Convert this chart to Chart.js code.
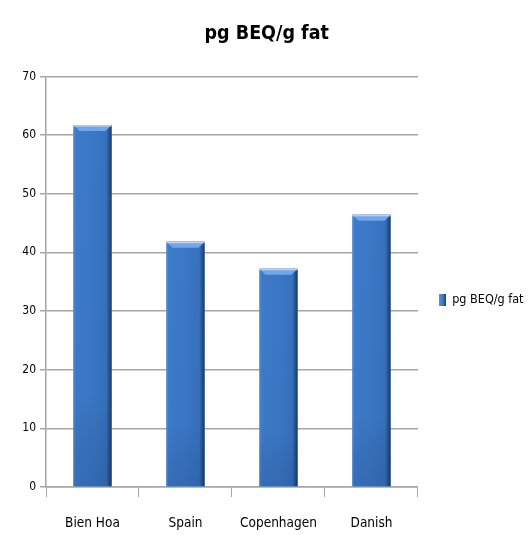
<!DOCTYPE html>
<html>
<head>
<meta charset="utf-8">
<script src="https://cdn.jsdelivr.net/npm/chart.js@4/dist/chart.umd.min.js"></script>
<style>
    html, body { margin: 0; padding: 0; background: #fff; }
    #wrap { width: 529px; height: 535px; }
</style>
</head>
<body>
<div id="wrap"><canvas id="beqChart" width="529" height="535"></canvas></div>
<script>
const SITES = ['Bien Hoa', 'Spain', 'Copenhagen', 'Danish'];
const BEQ_VALUES = [61.7, 41.8, 37.2, 46.4];
const SERIES_NAME = 'pg BEQ/g fat';
const Y_MAX = 70;
const Y_STEP = 10;

const FONT = "'DejaVu Sans Condensed', 'Liberation Sans', sans-serif";
const GRID = '#a6a6a6';

/* ---------- bar shading (office-style bevel) ---------- */
const bevelBars = {
    id: 'bevelBars',
    afterDatasetsDraw(chart) {
        const ctx = chart.ctx;
        chart.getDatasetMeta(0).data.forEach(bar => {
            const left = bar.x - bar.width / 2;
            const right = bar.x + bar.width / 2;
            const top = bar.y;
            const bottom = bar.base;
            ctx.save();
            // flat body, light left edge, dark right rim
            const g = ctx.createLinearGradient(left, 0, right, 0);
            g.addColorStop(0, '#5590d8');
            g.addColorStop(0.06, '#3d7bca');
            g.addColorStop(0.5, '#3a77c6');
            g.addColorStop(0.86, '#3771be');
            g.addColorStop(0.93, '#28568f');
            g.addColorStop(1, '#1b3966');
            ctx.fillStyle = g;
            ctx.fillRect(left, top, right - left, bottom - top);
            // slight darkening toward the base
            const v = ctx.createLinearGradient(0, top, 0, bottom);
            v.addColorStop(0, 'rgba(0,0,0,0)');
            v.addColorStop(0.75, 'rgba(0,0,0,0.02)');
            v.addColorStop(1, 'rgba(10,30,70,0.15)');
            ctx.fillStyle = v;
            ctx.fillRect(left, top, right - left, bottom - top);
            // top bevel
            const b = 6;
            ctx.fillStyle = '#6fa6ec';
            ctx.beginPath();
            ctx.moveTo(left, top);
            ctx.lineTo(right, top);
            ctx.lineTo(right - b, top + b);
            ctx.lineTo(left + b, top + b);
            ctx.closePath();
            ctx.fill();
            ctx.fillStyle = 'rgba(200,220,245,0.8)';
            ctx.fillRect(left, top, right - left, 1.5);
            ctx.restore();
        });
    }
};

const legendBox = (() => {
    const c = document.createElement('canvas');
    c.width = 7; c.height = 12;
    const x = c.getContext('2d');
    const g = x.createLinearGradient(0, 0, 7, 0);
    g.addColorStop(0, '#5a92da');
    g.addColorStop(0.6, '#3a77c6');
    g.addColorStop(1, '#1b3966');
    x.fillStyle = g;
    x.fillRect(0, 0, 7, 12);
    return c;
})();

new Chart(document.getElementById('beqChart'), {
    type: 'bar',
    data: {
        labels: SITES,
        datasets: [{
            label: SERIES_NAME,
            data: BEQ_VALUES,
            backgroundColor: '#3a77c6',
            borderWidth: 0,
            categoryPercentage: 1,
            barPercentage: 0.41
        }]
    },
    options: {
        responsive: false,
        animation: false,
        layout: { padding: { left: 0, right: -4.5, top: 0, bottom: 0 } },
        plugins: {
            title: {
                display: true,
                text: SERIES_NAME,
                color: '#000',
                font: { family: FONT, size: 19.5, weight: 'bold' },
                padding: { top: 22, bottom: 31 }
            },
            legend: {
                position: 'right',
                title: { display: true, text: '', padding: { top: 0, bottom: 50 } },
                labels: {
                    color: '#000',
                    font: { family: FONT, size: 12.5 },
                    usePointStyle: true,
                    pointStyle: legendBox,
                    pointStyleWidth: 7,
                    padding: 21
                }
            },
            tooltip: { enabled: false }
        },
        scales: {
            x: {
                grid: {
                    display: true,
                    drawOnChartArea: false,
                    drawTicks: true,
                    tickLength: 10,
                    color: GRID,
                    offset: true
                },
                border: { color: GRID, width: 1.5 },
                ticks: {
                    color: '#000',
                    font: { family: FONT, size: 13.5 },
                    padding: 18,
                    maxRotation: 0,
                    autoSkip: false
                },
                afterFit(scale) { scale.height = 48; }
            },
            y: {
                min: 0,
                max: Y_MAX,
                ticks: {
                    stepSize: Y_STEP,
                    color: '#000',
                    font: { family: FONT, size: 12 },
                    padding: 4
                },
                grid: { color: GRID, lineWidth: 1.5, tickLength: 6 },
                border: { color: GRID, width: 1.5 },
                afterFit(scale) { scale.width = 46; }
            }
        }
    },
    plugins: [bevelBars]
});
</script>
</body>
</html>
